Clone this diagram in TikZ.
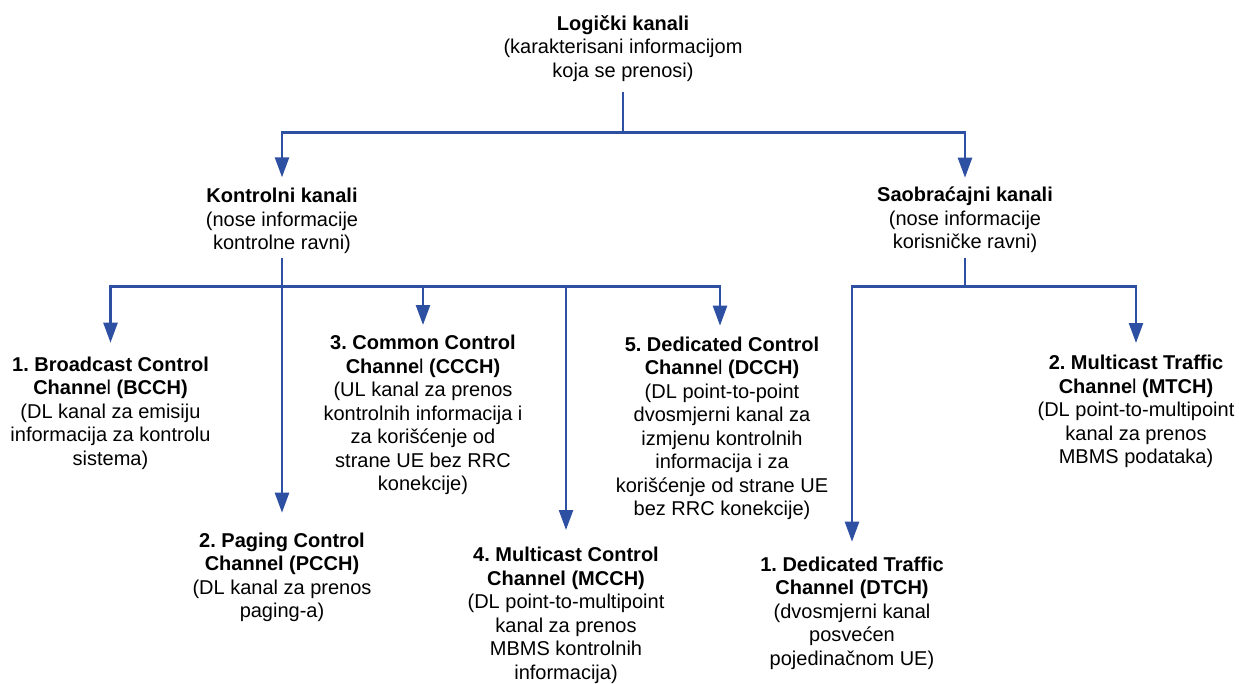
\documentclass[tikz,border=0pt]{standalone}
\usepackage{fontspec}
\setmainfont{Liberation Sans}
\usetikzlibrary{arrows.meta}
\definecolor{linkblue}{RGB}{46,80,162}
\frenchspacing
\begin{document}
\begin{tikzpicture}[x=1pt,y=-1pt,
  lbl/.style={align=center, inner sep=0pt, anchor=north,
              font=\fontsize{20}{23.5}\selectfont},
  conn/.style={draw=linkblue, line width=2.5pt},
  arr/.style={conn, -{Triangle[length=20pt,width=14pt]}}]
\useasboundingbox (0,0) rectangle (1239,683);

% channel groups
\node[lbl] (logic) at (623,15)    {\textbf{Logički kanali}\\(karakterisani informacijom\\koja se prenosi)};
\node[lbl] (ctrl)  at (282,188.3) {\textbf{Kontrolni kanali}\\(nose informacije\\kontrolne ravni)};
\node[lbl] (traf)  at (965,186.7) {\textbf{Saobraćajni kanali}\\(nose informacije\\korisničke ravni)};

% control channels
\node[lbl] (bcch) at (110.5,356.7) {\textbf{1. Broadcast Control}\\\textbf{Channe}l \textbf{(BCCH)}\\(DL kanal za emisiju\\informacija za kontrolu\\sistema)};
\node[lbl] (pcch) at (282,532.7) {\textbf{2. Paging Control}\\\textbf{Channel (PCCH)}\\(DL kanal za prenos\\paging-a)};
\node[lbl] (ccch) at (423,335) {\textbf{3. Common Control}\\\textbf{Channe}l \textbf{(CCCH)}\\(UL kanal za prenos\\kontrolnih informacija i\\za korišćenje od\\strane UE bez RRC\\konekcije)};
\node[lbl] (mcch) at (566,547) {\textbf{4. Multicast Control}\\\textbf{Channel (MCCH)}\\(DL point-to-multipoint\\kanal za prenos\\MBMS kontrolnih\\informacija)};
\node[lbl] (dcch) at (722,336.7) {\textbf{5. Dedicated Control}\\\textbf{Channe}l \textbf{(DCCH)}\\(DL point-to-point\\dvosmjerni kanal za\\izmjenu kontrolnih\\informacija i za\\korišćenje od strane UE\\bez RRC konekcije)};

% traffic channels
\node[lbl] (dtch) at (852,556.7) {\textbf{1. Dedicated Traffic}\\\textbf{Channel (DTCH)}\\(dvosmjerni kanal\\posvećen\\pojedinačnom UE)};
\node[lbl] (mtch) at (1136,355) {\textbf{2. Multicast Traffic}\\\textbf{Channe}l \textbf{(MTCH)}\\(DL point-to-multipoint\\kanal za prenos\\MBMS podataka)};

% junction points
\coordinate (j0) at (623,132.7);
\coordinate (jl) at (282,132.7);
\coordinate (jr) at (965,132.7);
\coordinate (c0) at (282,286.7);
\coordinate (cL) at (110.5,286.7);
\coordinate (cc) at (423,286.7);
\coordinate (cm) at (566,286.7);
\coordinate (cR) at (720,286.7);
\coordinate (t0) at (965,286.7);
\coordinate (tL) at (852,286.7);
\coordinate (tR) at (1136,286.7);

% top level
\draw[conn] (logic.south |- 0,92) -- (j0);
\draw[arr, shorten >=11pt] (jr) -- (jl) -- (jl |- ctrl.north);
\draw[arr, shorten >=9pt]  (jl) -- (jr) -- (jr |- traf.north);

% control branch
\draw[conn] (ctrl.south |- 0,258) -- (c0);
\draw[arr, shorten >=14pt] (cR) -- (cL) -- (cL |- bcch.north);
\draw[arr, shorten >=11pt] (cL) -- (cR) -- (cR |- dcch.north);
\draw[arr, shorten >=20pt] (c0) -- (c0 |- pcch.north);
\draw[arr, shorten >=10pt] (cc) -- (cc |- ccch.north);
\draw[arr, shorten >=17pt] (cm) -- (cm |- mcch.north);

% traffic branch
\draw[conn] (traf.south |- 0,258) -- (t0);
\draw[arr, shorten >=15pt] (tR) -- (tL) -- (tL |- dtch.north);
\draw[arr, shorten >=12pt] (tL) -- (tR) -- (tR |- mtch.north);
\end{tikzpicture}
\end{document}
